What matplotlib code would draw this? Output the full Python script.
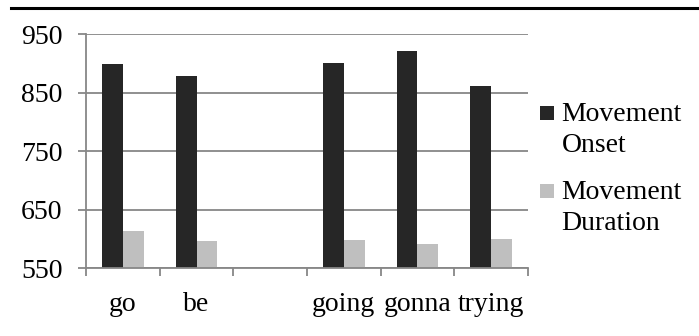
import matplotlib
matplotlib.use("Agg")
import matplotlib.pyplot as plt
from matplotlib.lines import Line2D
from matplotlib.patches import Rectangle
import numpy as np

categories = ["go", "be", "", "going", "gonna", "trying"]
onset = [899, 878, np.nan, 900, 921, 862]
duration = [614, 597, np.nan, 598, 591, 600]
series_labels = ["Movement\nOnset", "Movement\nDuration"]
series_colors = ["#262626", "#bfbfbf"]
yticks = [550, 650, 750, 850, 950]

plt.rcParams['font.family'] = ['Liberation Serif', 'DejaVu Serif']
FS = 20

W, H = 699, 336
fig = plt.figure(figsize=(W / 100, H / 100), dpi=100)
ax = fig.add_axes([86 / W, 1 - 268.3 / H, (528 - 86) / W, (268.3 - 34) / H])

x = np.arange(len(categories))
bw = 0.285
ax.bar(x - bw / 2, onset, width=bw, color=series_colors[0], zorder=3)
ax.bar(x + bw / 2, duration, width=bw, color=series_colors[1], zorder=3)

ax.set_xlim(-0.5, len(categories) - 0.5)
ax.set_ylim(yticks[0], yticks[-1])
ax.set_yticks(yticks)
ax.set_yticklabels([str(v) for v in yticks], fontsize=FS)
ax.yaxis.grid(True, color="#878787", linewidth=1.3, zorder=0)

# category boundaries as major ticks, labels at minor ticks
ax.set_xticks(np.arange(len(categories) + 1) - 0.5)
ax.set_xticklabels([])
ax.set_xticks(x, minor=True)
ax.set_xticklabels(categories, minor=True, fontsize=FS)
ax.tick_params(axis='x', which='major', length=6, color="#878787", width=1.3)
ax.tick_params(axis='x', which='minor', length=0, pad=17)
ax.tick_params(axis='y', length=6, color="#878787", width=1.3, pad=11)

for s in ["top", "right"]:
    ax.spines[s].set_visible(False)
for s in ["left", "bottom"]:
    ax.spines[s].set_color("#878787")
    ax.spines[s].set_linewidth(1.3)
ax.spines["bottom"].set_zorder(4)

# top rule
fig.add_artist(Line2D([11 / W, 1.0], [1 - 7.7 / H, 1 - 7.7 / H],
                      transform=fig.transFigure, color="black", linewidth=2.2))

# legend (manual, handles aligned with first line)
leg_tops = [106, 184]
for lab, col, top in zip(series_labels, series_colors, leg_tops):
    fig.add_artist(Rectangle((540 / W, 1 - (top + 14) / H), 14 / W, 14 / H,
                             transform=fig.transFigure, facecolor=col, edgecolor='none'))
    fig.text(561.5 / W, 1 - (top - 4) / H, lab, fontsize=FS, va='top', ha='left',
             linespacing=1.3)

fig.savefig("out.png", dpi=100)
